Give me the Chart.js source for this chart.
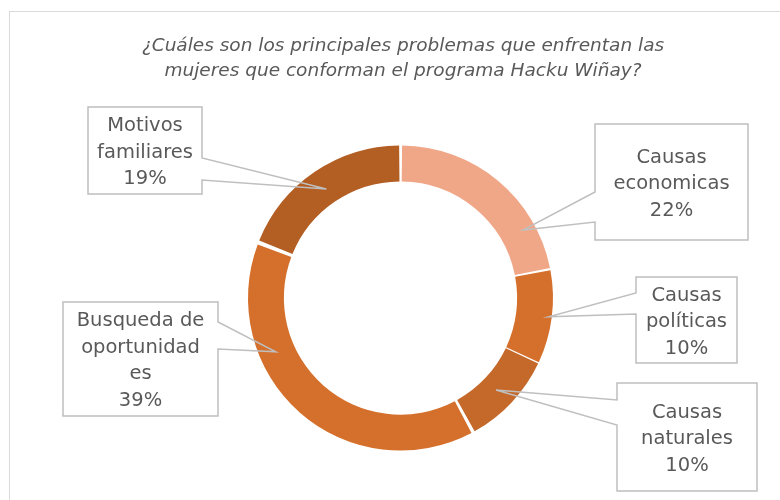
<!DOCTYPE html>
<html lang="es">
<head>
<meta charset="utf-8">
<title>Problemas Hacku Wiñay</title>
<script src="https://cdn.jsdelivr.net/npm/chart.js@4.4.1/dist/chart.umd.min.js"></script>
<style>
  html, body { margin: 0; padding: 0; background: #fff; }
  #wrap { position: relative; width: 780px; height: 500px; }
</style>
</head>
<body>
<div id="wrap"><canvas id="chart" width="780" height="500"></canvas></div>
<script>
// datos de la encuesta
const categorias = ['Causas economicas', 'Causas políticas', 'Causas naturales', 'Busqueda de oportunidades', 'Motivos familiares'];
const porcentajes = [22, 10, 10, 39, 19];
const colores = ['#F0A788', '#D4702C', '#C4692A', '#D4702C', '#B35E23'];
const lineasEtiqueta = [
  ['Causas', 'economicas'],
  ['Causas', 'políticas'],
  ['Causas', 'naturales'],
  ['Busqueda de', 'oportunidad', 'es'],
  ['Motivos', 'familiares']
];
const titulo = [
  '¿Cuáles son los principales problemas que enfrentan las',
  'mujeres que conforman el programa Hacku Wiñay?'
];

// cajas de las etiquetas: rectángulo, lado con la flecha y punto dentro del arco
const cajas = [
  { x1: 595, y1: 124, x2: 748, y2: 240, lado: 'izq', g1: 192, g2: 222, f: 0.77, rf: 0.71 },
  { x1: 636, y1: 277, x2: 737, y2: 363, lado: 'izq', g1: 293, g2: 314, f: 0.50, rf: 0.97 },
  { x1: 617, y1: 383, x2: 757, y2: 491, lado: 'izq', g1: 400, g2: 425, f: 0.52, rf: 0.50 },
  { x1: 63, y1: 302, x2: 218, y2: 416, lado: 'der', g1: 322, g2: 349, f: 0.68, rf: 0.59 },
  { x1: 88, y1: 107, x2: 202, y2: 194, lado: 'der', g1: 158, g2: 180, f: 0.50, rf: 0.48 }
];

const GRIS_TEXTO = '#595959';
const GRIS_LINEA = '#BFBFBF';
const FUENTE = '"DejaVu Sans", sans-serif';

const marcoYTitulo = {
  id: 'marcoYTitulo',
  beforeDraw(chart) {
    const ctx = chart.ctx;
    ctx.save();
    ctx.strokeStyle = '#D9D9D9';
    ctx.lineWidth = 1;
    ctx.strokeRect(9.5, 11.5, 820, 600);
    ctx.fillStyle = GRIS_TEXTO;
    ctx.font = 'italic 18.5px ' + FUENTE;
    ctx.textAlign = 'center';
    ctx.textBaseline = 'middle';
    ctx.fillText(titulo[0], 403, 46);
    ctx.fillText(titulo[1], 403, 71);
    ctx.restore();
  }
};

const etiquetas = {
  id: 'etiquetas',
  afterDatasetsDraw(chart) {
    const ctx = chart.ctx;
    const meta = chart.getDatasetMeta(0);
    ctx.save();
    meta.data.forEach((arc, i) => {
      const c = cajas[i];
      const p = arc.getProps(['x', 'y', 'startAngle', 'endAngle', 'innerRadius', 'outerRadius'], true);
      const ang = p.startAngle + c.f * (p.endAngle - p.startAngle);
      const r = p.innerRadius + c.rf * (p.outerRadius - p.innerRadius);
      const ax = p.x + Math.cos(ang) * r;
      const ay = p.y + Math.sin(ang) * r;

      // fondo blanco de la caja
      ctx.fillStyle = '#fff';
      ctx.fillRect(c.x1, c.y1, c.x2 - c.x1, c.y2 - c.y1);

      // contorno con la punta hacia el arco
      ctx.beginPath();
      if (c.lado === 'izq') {
        ctx.moveTo(c.x1, c.g1);
        ctx.lineTo(c.x1, c.y1);
        ctx.lineTo(c.x2, c.y1);
        ctx.lineTo(c.x2, c.y2);
        ctx.lineTo(c.x1, c.y2);
        ctx.lineTo(c.x1, c.g2);
        ctx.lineTo(ax, ay);
        ctx.closePath();
      } else {
        ctx.moveTo(c.x2, c.g1);
        ctx.lineTo(c.x2, c.y1);
        ctx.lineTo(c.x1, c.y1);
        ctx.lineTo(c.x1, c.y2);
        ctx.lineTo(c.x2, c.y2);
        ctx.lineTo(c.x2, c.g2);
        ctx.lineTo(ax, ay);
        ctx.closePath();
      }
      ctx.strokeStyle = GRIS_LINEA;
      ctx.lineWidth = 1.5;
      ctx.lineJoin = 'miter';
      ctx.stroke();

      // texto
      const lineas = lineasEtiqueta[i].concat([porcentajes[i] + '%']);
      const alto = 26.5;
      const cx = (c.x1 + c.x2) / 2;
      const cy = (c.y1 + c.y2) / 2 + 2;
      ctx.fillStyle = GRIS_TEXTO;
      ctx.font = '19.5px ' + FUENTE;
      ctx.textAlign = 'center';
      ctx.textBaseline = 'middle';
      lineas.forEach((t, k) => {
        ctx.fillText(t, cx, cy + (k - (lineas.length - 1) / 2) * alto);
      });
    });
    ctx.restore();
  }
};

new Chart(document.getElementById('chart'), {
  type: 'doughnut',
  data: {
    labels: categorias,
    datasets: [{
      data: porcentajes,
      backgroundColor: colores,
      borderWidth: 0,
      spacing: 4
    }]
  },
  options: {
    responsive: false,
    animation: false,
    events: [],
    radius: 150.5,
    cutout: 115,
    layout: { padding: { left: 247, right: 226, top: 145, bottom: 49 } },
    plugins: {
      legend: { display: false },
      tooltip: { enabled: false },
      title: { display: false }
    }
  },
  plugins: [marcoYTitulo, etiquetas]
});
</script>
</body>
</html>
